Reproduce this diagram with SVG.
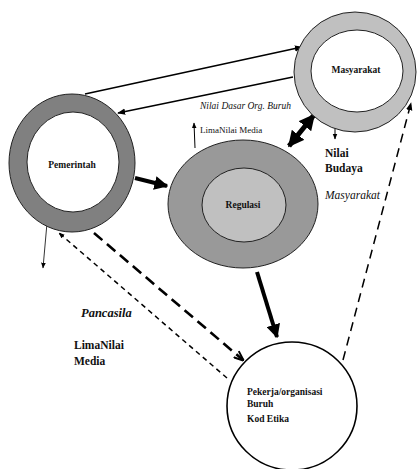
<svg xmlns="http://www.w3.org/2000/svg" width="417" height="469" viewBox="0 0 417 469">
<style>
.ring{stroke:#222;stroke-width:1}
text{font-family:'Liberation Serif','DejaVu Serif',serif;fill:#111}
.lbl{font-weight:bold;font-size:9.5px}
.ln{stroke:#000;fill:none}
</style>
<defs>
<marker id="ah" viewBox="0 0 10 10" refX="9" refY="5" markerWidth="8" markerHeight="8" markerUnits="userSpaceOnUse" orient="auto"><path d="M0,1 L10,5 L0,9 z" fill="#000"/></marker>
<marker id="ahs" viewBox="0 0 10 10" refX="9" refY="5" markerWidth="6" markerHeight="6" markerUnits="userSpaceOnUse" orient="auto"><path d="M0,1 L10,5 L0,9 z" fill="#000"/></marker>
<marker id="ahb" viewBox="0 0 10 10" refX="9" refY="5" markerWidth="14" markerHeight="14" markerUnits="userSpaceOnUse" orient="auto"><path d="M0,0 L10,5 L0,10 z" fill="#000"/></marker>
<marker id="ahB" viewBox="0 0 10 10" refX="9" refY="5" markerWidth="16" markerHeight="16" markerUnits="userSpaceOnUse" orient="auto-start-reverse"><path d="M0,0 L10,5 L0,10 z" fill="#000"/></marker>
<marker id="aho" viewBox="0 0 10 10" refX="9" refY="5" markerWidth="10" markerHeight="10" markerUnits="userSpaceOnUse" orient="auto"><path d="M0,1 L10,5 L0,9" fill="none" stroke="#000" stroke-width="2"/></marker>
</defs>
<rect width="417" height="469" fill="#fff"/>
<g id="connectors">
<line class="ln" x1="85" y1="94" x2="302" y2="47" stroke-width="1.6" marker-end="url(#ah)"/>
<line class="ln" x1="293" y1="77" x2="118" y2="113" stroke-width="1.6" marker-end="url(#ah)"/>
<line class="ln" x1="289" y1="146" x2="314" y2="115" stroke-width="5" marker-start="url(#ahB)" marker-end="url(#ahB)"/>
<line class="ln" x1="195" y1="148" x2="194" y2="123" stroke-width="1" marker-end="url(#ahs)"/>
<line class="ln" x1="335" y1="121" x2="335" y2="139" stroke-width="1" marker-end="url(#ahs)"/>
<line class="ln" x1="135" y1="178" x2="167" y2="186" stroke-width="4" marker-end="url(#ahb)"/>
<line class="ln" x1="47" y1="223" x2="43" y2="268" stroke-width="0.8" marker-end="url(#ahs)"/>
<line class="ln" x1="227" y1="378" x2="59" y2="233" stroke-width="1.5" stroke-dasharray="5,4" marker-end="url(#ahs)"/>
<line class="ln" x1="94" y1="233" x2="243" y2="360" stroke-width="2.6" stroke-dasharray="11,6" marker-end="url(#aho)"/>
<line class="ln" x1="257" y1="272" x2="277" y2="337" stroke-width="4" marker-end="url(#ahb)"/>
<line class="ln" x1="343" y1="360" x2="411" y2="103" stroke-width="1.5" stroke-dasharray="9,6" marker-end="url(#ah)"/>
</g>
<g id="masyarakat">
<ellipse class="ring" cx="355" cy="72" rx="61" ry="60" fill="#c0c0c0"/>
<ellipse class="ring" cx="357" cy="71" rx="46" ry="41" fill="#fff"/>
<text class="lbl" x="356" y="73" text-anchor="middle">Masyarakat</text>
</g>
<g id="pemerintah">
<ellipse class="ring" cx="72" cy="163" rx="63" ry="69" fill="#808080"/>
<ellipse class="ring" cx="73" cy="162" rx="46" ry="50" fill="#fff"/>
<text class="lbl" x="72" y="168" text-anchor="middle">Pemerintah</text>
</g>
<g id="regulasi">
<ellipse class="ring" cx="243" cy="204" rx="75" ry="64" fill="#999"/>
<ellipse class="ring" cx="244" cy="205" rx="42" ry="37" fill="#c0c0c0"/>
<text class="lbl" x="243" y="208" text-anchor="middle">Regulasi</text>
</g>
<g id="pekerja">
<ellipse cx="292" cy="406" rx="65" ry="64" fill="#fff" stroke="#000" stroke-width="1.6"/>
<text class="lbl" x="247" y="395" font-size="10.5">Pekerja/organisasi</text>
<text class="lbl" x="247" y="407" font-size="10.5">Buruh</text>
<text class="lbl" x="247" y="422" font-size="10.5">Kod Etika</text>
</g>
<g id="labels">
<text x="200" y="109" font-size="9.5" font-style="italic">Nilai Dasar Org. Buruh</text>
<text x="200" y="133" font-size="9">LimaNilai Media</text>
<text x="325" y="157" font-size="11.5" font-weight="bold">Nilai</text>
<text x="325" y="172" font-size="11.5" font-weight="bold">Budaya</text>
<text x="325" y="199" font-size="11.5" font-style="italic">Masyarakat</text>
<text x="81" y="317" font-size="12.5" font-style="italic" font-weight="bold">Pancasila</text>
<text x="74" y="349" font-size="11.5" font-weight="bold">LimaNilai</text>
<text x="74" y="365" font-size="11.5" font-weight="bold">Media</text>
</g>
</svg>
